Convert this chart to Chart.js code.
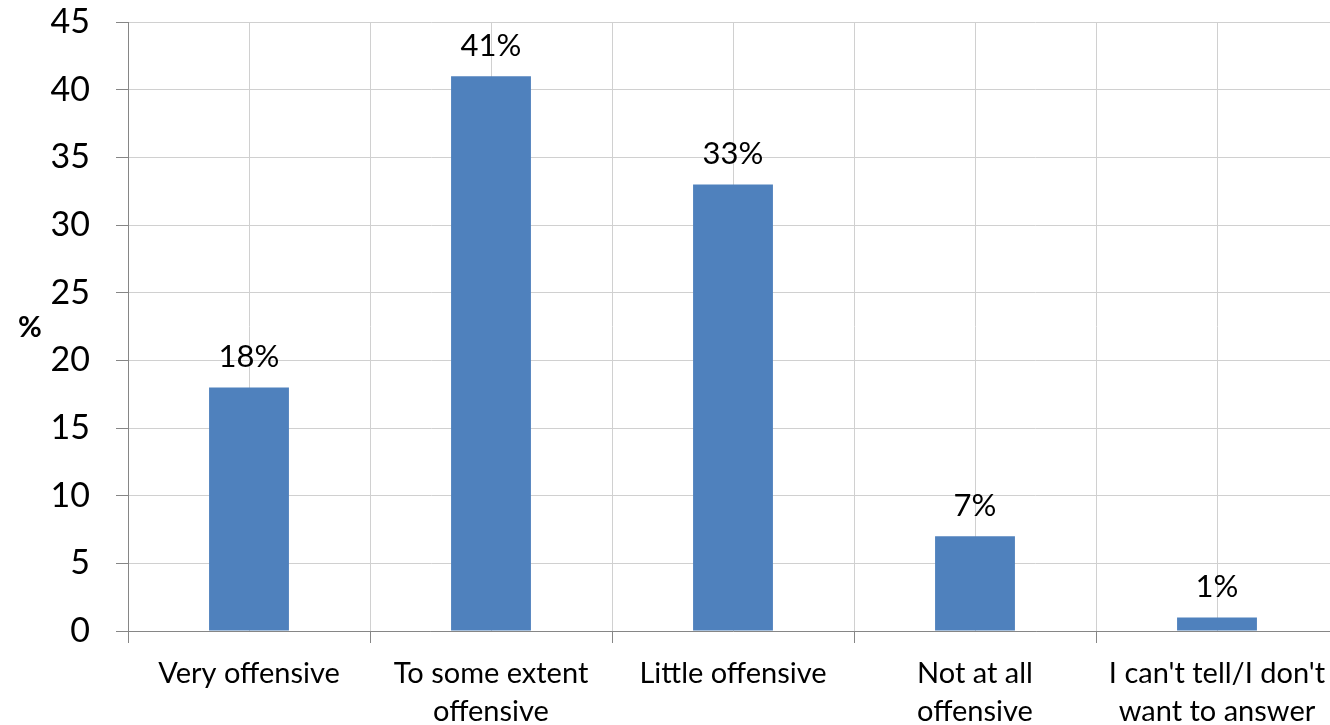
<!DOCTYPE html>
<html>
<head>
<meta charset="utf-8">
<script src="https://cdn.jsdelivr.net/npm/chart.js@4"></script>
<style>
  html, body { margin: 0; padding: 0; background: #fff; overflow: hidden; }
  #wrap { width: 1350px; height: 725px; }
</style>
</head>
<body>
<div id="wrap"><canvas id="myChart" width="1350" height="725"></canvas></div>
<script>
// chart data
var categories = [
    'Very offensive',
    ['To some extent', 'offensive'],
    'Little offensive',
    ['Not at all', 'offensive'],
    ["I can't tell/I don't", 'want to answer']
];
var values = [18, 41, 33, 7, 1];
var valueLabels = ['18%', '41%', '33%', '7%', '1%'];
var yTicks = [0, 5, 10, 15, 20, 25, 30, 35, 40, 45];

var FONT = 'Lato, "Open Sans", sans-serif';
var gridColor = '#d0d0d0';
var axisColor = '#868686';

// labels above bars + the "%" axis title
var barLabels = {
    id: 'barLabels',
    afterDatasetsDraw: function(chart){
        var ctx = chart.ctx;
        var meta = chart.getDatasetMeta(0);
        ctx.save();
        ctx.fillStyle = '#000';
        ctx.font = '31px ' + FONT;
        ctx.textAlign = 'center';
        ctx.textBaseline = 'alphabetic';
        meta.data.forEach(function(bar, i){
            ctx.fillText(valueLabels[i], bar.x, bar.y - 20);
        });
        ctx.font = 'bold 29px ' + FONT;
        ctx.textBaseline = 'middle';
        ctx.fillText('%', 30, 328);
        ctx.restore();
    }
};

var ctx = document.getElementById('myChart').getContext('2d');
var myChart = new Chart(ctx, {
    type: 'bar',
    data: {
        labels: categories,
        datasets: [{
            data: values,
            backgroundColor: '#4F81BD',
            borderWidth: 0,
            barPercentage: 0.33,
            categoryPercentage: 1
        }]
    },
    options: {
        responsive: false,
        animation: false,
        devicePixelRatio: 1,
        layout: { padding: { top: 22, right: 12, left: 0, bottom: 0 } },
        plugins: {
            legend: { display: false },
            tooltip: { enabled: false }
        },
        scales: {
            x: {
                position: 'bottom',
                offset: true,
                grid: { offset: true, color: gridColor, tickLength: 12, tickColor: axisColor },
                border: { color: axisColor, width: 1 },
                ticks: {
                    color: '#000',
                    font: { family: FONT, size: 29, lineHeight: 1.3 },
                    padding: 12,
                    maxRotation: 0,
                    autoSkip: false
                },
                afterFit: function(scale){ scale.height = 94; }
            },
            x2: {
                axis: 'x',
                type: 'category',
                position: 'bottom',
                offset: true,
                grid: { offset: false, color: gridColor, drawTicks: false },
                border: { display: false },
                ticks: { display: false },
                afterFit: function(scale){ scale.height = 0; }
            },
            y: {
                min: 0,
                max: 45,
                afterBuildTicks: function(scale){
                    scale.ticks = yTicks.map(function(v){ return { value: v }; });
                },
                grid: { color: gridColor, tickLength: 12, tickColor: axisColor },
                border: { color: axisColor, width: 1 },
                ticks: {
                    color: '#000',
                    font: { family: FONT, size: 34 },
                    padding: 26
                },
                afterFit: function(scale){
                    scale.width = 128;
                    scale.paddingTop = 0;
                    scale.paddingBottom = 0;
                }
            }
        }
    },
    plugins: [barLabels]
});
</script>
</body>
</html>
